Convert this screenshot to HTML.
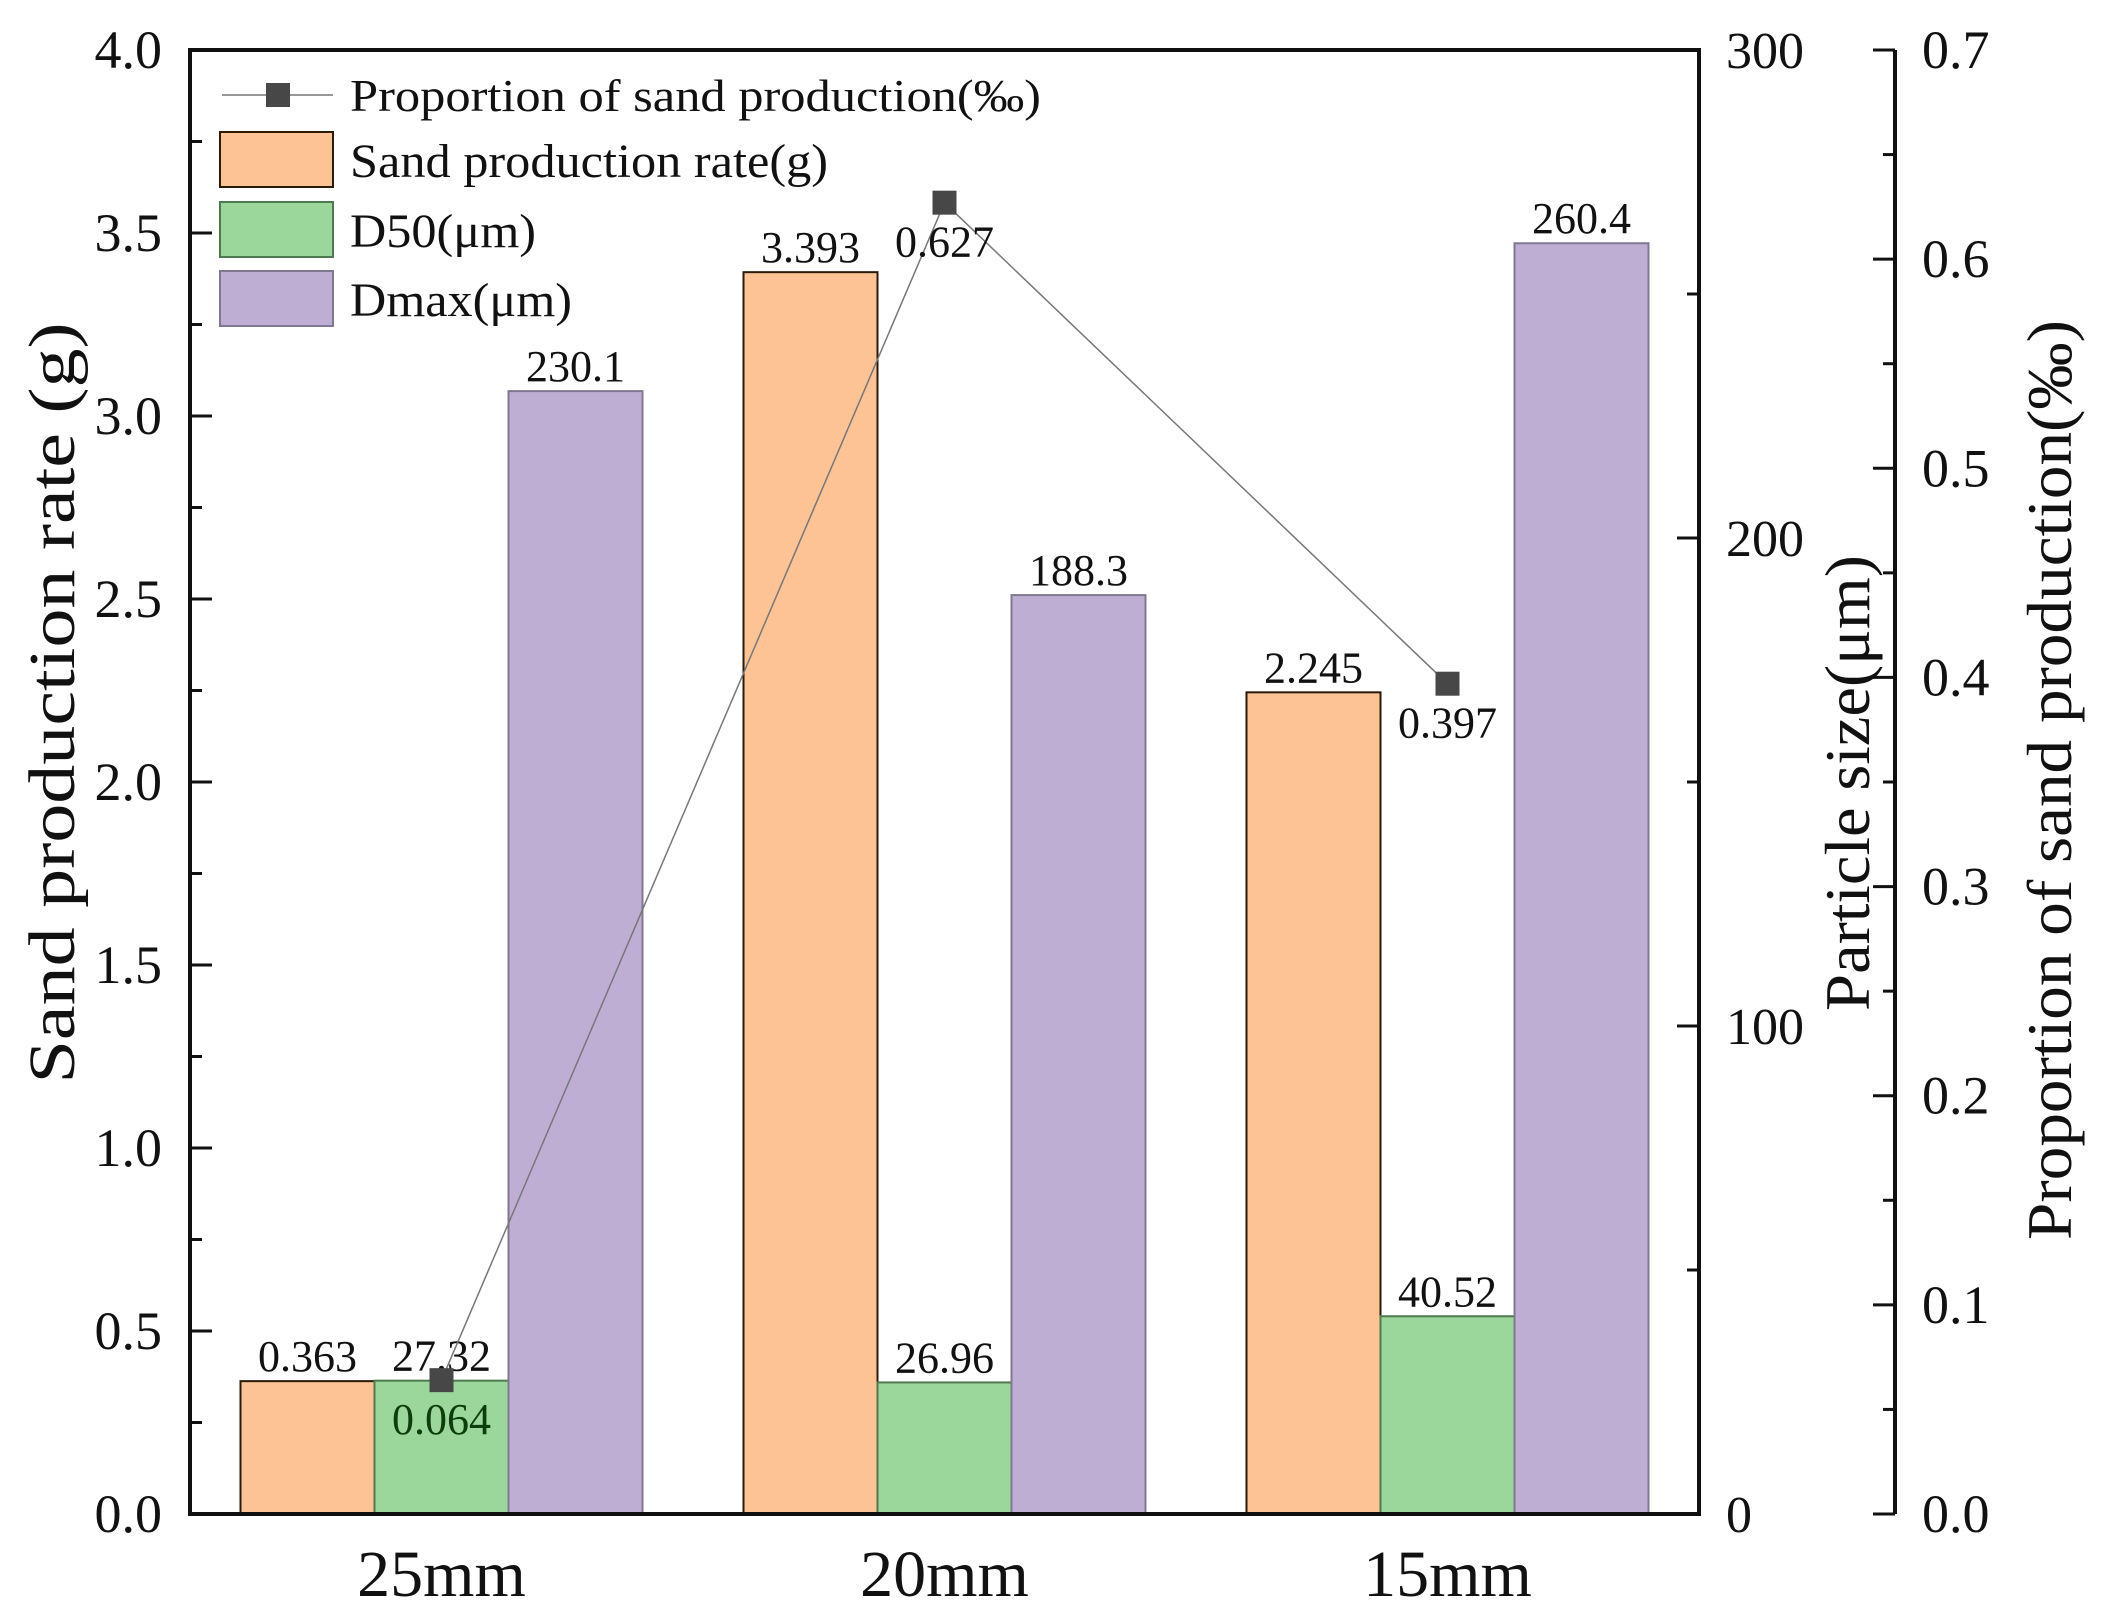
<!DOCTYPE html>
<html><head><meta charset="utf-8"><style>html,body{margin:0;padding:0;background:#fff}svg{display:block}text{font-family:"Liberation Serif","Times New Roman",serif;fill:#111}</style></head>
<body>
<svg id="chart" width="2101" height="1613" viewBox="0 0 2101 1613" xmlns="http://www.w3.org/2000/svg" font-family="Liberation Serif, serif"></svg>
<script>
const categories = ["25mm", "20mm", "15mm"];
const sandRate = [0.363, 3.393, 2.245];
const d50 = [27.32, 26.96, 40.52];
const dmax = [230.1, 188.3, 260.4];
const proportion = [0.064, 0.627, 0.397];
const leftTicks = ["0.0","0.5","1.0","1.5","2.0","2.5","3.0","3.5","4.0"];
const sizeTicks = ["0","100","200","300"];
const propTicks = ["0.0","0.1","0.2","0.3","0.4","0.5","0.6","0.7"];

const NS = "http://www.w3.org/2000/svg";
const svg = document.getElementById("chart");
const X0 = 190, X1 = 1699, Y0 = 1514, Y1 = 50, AX2 = 1895;
const step = (X1 - X0) / categories.length, BW = 134;
const yL = v => Y0 - v / 4 * (Y0 - Y1);
const yS = v => Y0 - v / 300 * (Y0 - Y1);
const yP = v => Y0 - v / 0.7 * (Y0 - Y1);
const xc = i => X0 + step * (i + 0.5);

function mk(tag, attrs, parent) {
  const e = document.createElementNS(NS, tag);
  for (const k in attrs) e.setAttribute(k, attrs[k]);
  (parent || svg).appendChild(e);
  return e;
}
function txt(s, attrs, parent) { const t = mk("text", attrs, parent); t.textContent = s; return t; }

const series = [
  {vals: sandRate, y: yL, fill: "#FDC394", stroke: "#2a1a0a", off: -1, name: "sand-rate-bar", fmt: v => v.toFixed(3)},
  {vals: d50, y: yS, fill: "#9BD79A", stroke: "#4f7a4f", off: 0, name: "d50-bar", fmt: v => v.toFixed(2)},
  {vals: dmax, y: yS, fill: "#BFAED4", stroke: "#807890", off: 1, name: "dmax-bar", fmt: v => v.toFixed(1)}
];
series.forEach(s => {
  s.vals.forEach((v, i) => {
    const cx = xc(i) + s.off * BW;
    const top = s.y(v);
    const r = mk("rect", {x: cx - BW / 2, y: top, width: BW, height: Y0 - top, fill: s.fill, stroke: s.stroke, "stroke-width": 2});
    
    
    const t = txt(s.fmt(v), {x: cx, y: top - 10, "text-anchor": "middle", "font-size": 44});
    
    
  });
});

const pts = proportion.map((v, i) => [xc(i), yP(v)]);
const pl = mk("polyline", {points: pts.map(p => p.join(",")).join(" "), fill: "none", stroke: "#777", "stroke-width": 1.5});


pts.forEach((p, i) => {
  const m = mk("rect", {x: p[0] - 12, y: p[1] - 12, width: 24, height: 24, fill: "#474747"});
  
  
  const t = txt(proportion[i].toFixed(3), {x: p[0], y: p[1] + 54, "text-anchor": "middle", "font-size": 44, style: i === 0 ? "fill:#0d3d0d" : "fill:#111"});
  
  
});

mk("rect", {x: X0, y: Y1, width: X1 - X0, height: Y0 - Y1, fill: "none", stroke: "#111", "stroke-width": 4,  });
mk("line", {x1: AX2, y1: Y1, x2: AX2, y2: Y0, stroke: "#111", "stroke-width": 4,  });

for (let k = 0; k <= 16; k++) {
  const v = k * 0.25, y = yL(v), major = k % 2 === 0;
  mk("line", {x1: X0, y1: y, x2: X0 + (major ? 22 : 12), y2: y, stroke: "#111", "stroke-width": 3});
}
leftTicks.forEach(s => {
  const t = txt(s, {x: 162, y: yL(parseFloat(s)) + 18, "text-anchor": "end", "font-size": 54});
  
  
});
for (let k = 0; k <= 6; k++) {
  const v = k * 50, y = yS(v), major = k % 2 === 0;
  mk("line", {x1: X1, y1: y, x2: X1 - (major ? 22 : 12), y2: y, stroke: "#111", "stroke-width": 3});
}
sizeTicks.forEach(s => {
  const t = txt(s, {x: 1726, y: yS(parseFloat(s)) + 18, "font-size": 52});
  
  
});
for (let k = 0; k <= 14; k++) {
  const v = k * 0.05, y = yP(v), major = k % 2 === 0;
  mk("line", {x1: AX2, y1: y, x2: AX2 - (major ? 22 : 12), y2: y, stroke: "#111", "stroke-width": 3});
}
propTicks.forEach(s => {
  const t = txt(s, {x: 1922, y: yP(parseFloat(s)) + 18, "font-size": 54});
  
  
});
categories.forEach((c, i) => {
  const t = txt(c, {x: xc(i), y: 1596, "text-anchor": "middle", "font-size": 66});
  
  
});
</script>
<svg style="position:absolute;left:0;top:0" width="2101" height="1613" font-family="Liberation Serif, serif">
<text transform="translate(74,703) rotate(-90)" text-anchor="middle" font-size="66" textLength="761" lengthAdjust="spacingAndGlyphs">Sand production rate (g)</text>
<text transform="translate(1869,783) rotate(-90)" text-anchor="middle" font-size="64" textLength="456" lengthAdjust="spacingAndGlyphs">Particle size(μm)</text>
<text transform="translate(2071,780) rotate(-90)" text-anchor="middle" font-size="64" textLength="920" lengthAdjust="spacingAndGlyphs">Proportion of sand production(‰)</text>
<g>
<line x1="222" y1="95" x2="333" y2="95" stroke="#777" stroke-width="1.5"/>
<rect x="266" y="83" width="24" height="24" fill="#474747"/>
<text x="350" y="111" font-size="46" textLength="691" lengthAdjust="spacingAndGlyphs">Proportion of sand production(‰)</text>
<rect x="220" y="132" width="113" height="55" fill="#FDC394" stroke="#2a1a0a" stroke-width="2"/>
<text x="350" y="177" font-size="48" textLength="478" lengthAdjust="spacingAndGlyphs">Sand production rate(g)</text>
<rect x="220" y="202" width="113" height="55" fill="#9BD79A" stroke="#4f7a4f" stroke-width="2"/>
<text x="350" y="247" font-size="48" textLength="186" lengthAdjust="spacingAndGlyphs">D50(μm)</text>
<rect x="220" y="271" width="113" height="55" fill="#BFAED4" stroke="#807890" stroke-width="2"/>
<text x="350" y="316" font-size="48" textLength="222" lengthAdjust="spacingAndGlyphs">Dmax(μm)</text>
</g>
</svg>
</body></html>
